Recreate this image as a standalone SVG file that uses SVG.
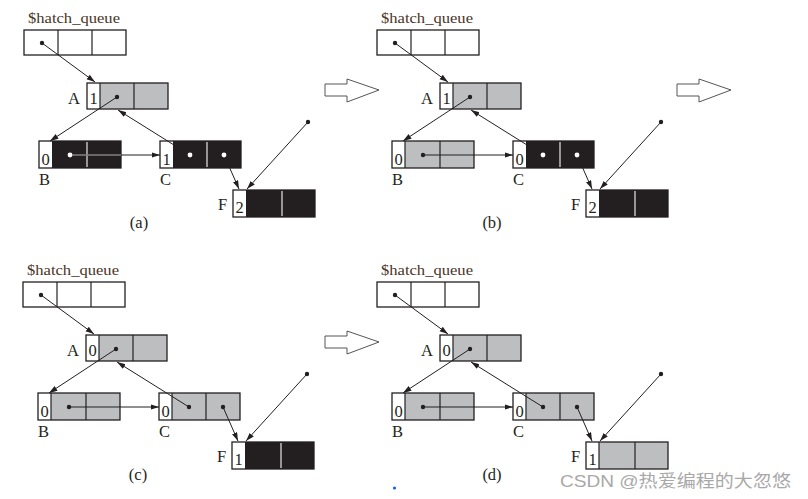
<svg xmlns="http://www.w3.org/2000/svg" width="808" height="499" viewBox="0 0 808 499">
<style>
.bd{fill:none;stroke:#231f20;stroke-width:1.3}
.w{fill:#fff}
.g{fill:#bcbec0}
.k{fill:#231f20}
.dv{stroke:#231f20;stroke-width:1.2}
.wdv{stroke:#e6e6e6;stroke-width:1.2}
.t{font-family:"Liberation Serif","Times New Roman",serif;font-size:16.5px;fill:#231f20}
.tq{font-family:"Liberation Serif","Times New Roman",serif;font-size:15.5px;fill:#4a3526}
.c{stroke:#231f20;stroke-width:1;fill:none}
.cl{stroke:#b0b0b0;stroke-width:1;fill:none}
.dot{fill:#231f20}
.wdot{fill:#fff}
.ba{fill:#fff;stroke:#555;stroke-width:1}
</style>
<defs>
<marker id="ah" markerUnits="userSpaceOnUse" markerWidth="9" markerHeight="6" refX="8.5" refY="2.75" orient="auto"><path d="M0,0 L8.5,2.75 L0,5.5 Z" fill="#231f20"/></marker>
</defs>
<rect width="808" height="499" fill="#fff"/>

<!-- Panel (a) -->
<g id="panel-a">
  <g id="a-queue">
    <text class="tq" x="28" y="23" textLength="92" lengthAdjust="spacingAndGlyphs">$hatch_queue</text>
    <rect class="w" x="24" y="30" width="102" height="25"/>
    <line class="dv" x1="58" y1="30" x2="58" y2="55"/><line class="dv" x1="92" y1="30" x2="92" y2="55"/>
    <rect class="bd" x="24" y="30" width="102" height="25"/>
  </g>
  <g id="a-A">
    <text class="t" x="68" y="104" textLength="12" lengthAdjust="spacingAndGlyphs">A</text>
    <rect class="w" x="87" y="83" width="13" height="26"/><rect class="g" x="100" y="83" width="68" height="26"/>
    <line class="dv" x1="100" y1="83" x2="100" y2="109"/><line class="dv" x1="134" y1="83" x2="134" y2="109"/>
    <rect class="bd" x="87" y="83" width="81" height="26"/>
    <text class="t" x="93.5" y="104" text-anchor="middle">1</text>
  </g>
  <g id="a-B">
    <rect class="w" x="39" y="141" width="13" height="27"/><rect class="k" x="52" y="141" width="69" height="27"/>
    <line class="wdv" x1="87" y1="142" x2="87" y2="167"/>
    <rect class="bd" x="39" y="141" width="82" height="27"/>
    <text class="t" x="45.5" y="165" text-anchor="middle">0</text>
    <text class="t" x="39" y="185">B</text>
  </g>
  <g id="a-C">
    <rect class="w" x="160" y="141" width="13" height="27"/><rect class="k" x="173" y="141" width="68" height="27"/>
    <line class="wdv" x1="207" y1="142" x2="207" y2="167"/>
    <rect class="bd" x="160" y="141" width="81" height="27"/>
    <text class="t" x="166.5" y="165" text-anchor="middle">1</text>
    <text class="t" x="160" y="185">C</text>
  </g>
  <g id="a-F">
    <text class="t" x="218" y="210">F</text>
    <rect class="w" x="233" y="190" width="13" height="27"/><rect class="k" x="246" y="190" width="69" height="27"/>
    <line class="wdv" x1="282" y1="191" x2="282" y2="216"/>
    <rect class="bd" x="233" y="190" width="82" height="27"/>
    <text class="t" x="239.5" y="213" text-anchor="middle">2</text>
  </g>
  <g id="a-connectors">
    <line class="c" x1="42" y1="43" x2="95" y2="82" marker-end="url(#ah)"/>
    <line class="c" x1="117" y1="97" x2="50" y2="141" marker-end="url(#ah)"/>
    <line class="c" x1="70" y1="155" x2="160" y2="155" marker-end="url(#ah)"/>
    <line class="cl" x1="70" y1="155" x2="121" y2="155"/>
    <line class="c" x1="190" y1="155" x2="118" y2="110" marker-end="url(#ah)"/>
    <line class="c" x1="224" y1="155" x2="239" y2="189" marker-end="url(#ah)"/>
    <line class="c" x1="308" y1="122" x2="247" y2="189" marker-end="url(#ah)"/>
    <circle class="dot" cx="42" cy="43" r="2.2"/><circle class="dot" cx="117" cy="97" r="2.2"/>
    <circle class="wdot" cx="70" cy="155" r="2.4"/><circle class="wdot" cx="190" cy="155" r="2.4"/><circle class="wdot" cx="224" cy="155" r="2.4"/>
    <circle class="dot" cx="308" cy="122" r="2.2"/>
  </g>
  <text class="t" x="139" y="228" text-anchor="middle">(a)</text>
</g>

<!-- Panel (b) -->
<g id="panel-b" transform="translate(353,0)">
  <g id="b-queue">
    <text class="tq" x="28" y="23" textLength="92" lengthAdjust="spacingAndGlyphs">$hatch_queue</text>
    <rect class="w" x="24" y="30" width="102" height="25"/>
    <line class="dv" x1="58" y1="30" x2="58" y2="55"/><line class="dv" x1="92" y1="30" x2="92" y2="55"/>
    <rect class="bd" x="24" y="30" width="102" height="25"/>
  </g>
  <g id="b-A">
    <text class="t" x="68" y="104" textLength="12" lengthAdjust="spacingAndGlyphs">A</text>
    <rect class="w" x="87" y="83" width="13" height="26"/><rect class="g" x="100" y="83" width="68" height="26"/>
    <line class="dv" x1="100" y1="83" x2="100" y2="109"/><line class="dv" x1="134" y1="83" x2="134" y2="109"/>
    <rect class="bd" x="87" y="83" width="81" height="26"/>
    <text class="t" x="93.5" y="104" text-anchor="middle">1</text>
  </g>
  <g id="b-B">
    <rect class="w" x="39" y="141" width="13" height="27"/><rect class="g" x="52" y="141" width="69" height="27"/>
    <line class="dv" x1="52" y1="141" x2="52" y2="168"/><line class="dv" x1="87" y1="141" x2="87" y2="168"/>
    <rect class="bd" x="39" y="141" width="82" height="27"/>
    <text class="t" x="45.5" y="165" text-anchor="middle">0</text>
    <text class="t" x="39" y="185">B</text>
  </g>
  <g id="b-C">
    <rect class="w" x="160" y="141" width="13" height="27"/><rect class="k" x="173" y="141" width="68" height="27"/>
    <line class="wdv" x1="207" y1="142" x2="207" y2="167"/>
    <rect class="bd" x="160" y="141" width="81" height="27"/>
    <text class="t" x="166.5" y="165" text-anchor="middle">0</text>
    <text class="t" x="160" y="185">C</text>
  </g>
  <g id="b-F">
    <text class="t" x="218" y="210">F</text>
    <rect class="w" x="233" y="190" width="13" height="27"/><rect class="k" x="246" y="190" width="69" height="27"/>
    <line class="wdv" x1="282" y1="191" x2="282" y2="216"/>
    <rect class="bd" x="233" y="190" width="82" height="27"/>
    <text class="t" x="239.5" y="213" text-anchor="middle">2</text>
  </g>
  <g id="b-connectors">
    <line class="c" x1="42" y1="43" x2="95" y2="82" marker-end="url(#ah)"/>
    <line class="c" x1="117" y1="97" x2="50" y2="141" marker-end="url(#ah)"/>
    <line class="c" x1="70" y1="155" x2="160" y2="155" marker-end="url(#ah)"/>
    <line class="c" x1="190" y1="155" x2="118" y2="110" marker-end="url(#ah)"/>
    <line class="c" x1="224" y1="155" x2="239" y2="189" marker-end="url(#ah)"/>
    <line class="c" x1="308" y1="122" x2="247" y2="189" marker-end="url(#ah)"/>
    <circle class="dot" cx="42" cy="43" r="2.2"/><circle class="dot" cx="117" cy="97" r="2.2"/>
    <circle class="dot" cx="70" cy="155" r="2.2"/><circle class="wdot" cx="190" cy="155" r="2.4"/><circle class="wdot" cx="224" cy="155" r="2.4"/>
    <circle class="dot" cx="308" cy="122" r="2.2"/>
  </g>
  <text class="t" x="139" y="228" text-anchor="middle">(b)</text>
</g>

<!-- Panel (c) -->
<g id="panel-c" transform="translate(-1,252)">
  <g id="c-queue">
    <text class="tq" x="28" y="23" textLength="92" lengthAdjust="spacingAndGlyphs">$hatch_queue</text>
    <rect class="w" x="24" y="30" width="102" height="25"/>
    <line class="dv" x1="58" y1="30" x2="58" y2="55"/><line class="dv" x1="92" y1="30" x2="92" y2="55"/>
    <rect class="bd" x="24" y="30" width="102" height="25"/>
  </g>
  <g id="c-A">
    <text class="t" x="68" y="104" textLength="12" lengthAdjust="spacingAndGlyphs">A</text>
    <rect class="w" x="87" y="83" width="13" height="26"/><rect class="g" x="100" y="83" width="68" height="26"/>
    <line class="dv" x1="100" y1="83" x2="100" y2="109"/><line class="dv" x1="134" y1="83" x2="134" y2="109"/>
    <rect class="bd" x="87" y="83" width="81" height="26"/>
    <text class="t" x="93.5" y="104" text-anchor="middle">0</text>
  </g>
  <g id="c-B">
    <rect class="w" x="39" y="141" width="13" height="27"/><rect class="g" x="52" y="141" width="69" height="27"/>
    <line class="dv" x1="52" y1="141" x2="52" y2="168"/><line class="dv" x1="87" y1="141" x2="87" y2="168"/>
    <rect class="bd" x="39" y="141" width="82" height="27"/>
    <text class="t" x="45.5" y="165" text-anchor="middle">0</text>
    <text class="t" x="39" y="185">B</text>
  </g>
  <g id="c-C">
    <rect class="w" x="160" y="141" width="13" height="27"/><rect class="g" x="173" y="141" width="68" height="27"/>
    <line class="dv" x1="173" y1="141" x2="173" y2="168"/><line class="dv" x1="207" y1="141" x2="207" y2="168"/>
    <rect class="bd" x="160" y="141" width="81" height="27"/>
    <text class="t" x="166.5" y="165" text-anchor="middle">0</text>
    <text class="t" x="160" y="185">C</text>
  </g>
  <g id="c-F">
    <text class="t" x="218" y="210">F</text>
    <rect class="w" x="233" y="190" width="13" height="27"/><rect class="k" x="246" y="190" width="69" height="27"/>
    <line class="wdv" x1="282" y1="191" x2="282" y2="216"/>
    <rect class="bd" x="233" y="190" width="82" height="27"/>
    <text class="t" x="239.5" y="213" text-anchor="middle">1</text>
  </g>
  <g id="c-connectors">
    <line class="c" x1="42" y1="43" x2="95" y2="82" marker-end="url(#ah)"/>
    <line class="c" x1="117" y1="97" x2="50" y2="141" marker-end="url(#ah)"/>
    <line class="c" x1="70" y1="155" x2="160" y2="155" marker-end="url(#ah)"/>
    <line class="c" x1="190" y1="155" x2="118" y2="110" marker-end="url(#ah)"/>
    <line class="c" x1="224" y1="155" x2="239" y2="189" marker-end="url(#ah)"/>
    <line class="c" x1="308" y1="122" x2="247" y2="189" marker-end="url(#ah)"/>
    <circle class="dot" cx="42" cy="43" r="2.2"/><circle class="dot" cx="117" cy="97" r="2.2"/>
    <circle class="dot" cx="70" cy="155" r="2.2"/><circle class="dot" cx="190" cy="155" r="2.2"/><circle class="dot" cx="224" cy="155" r="2.2"/>
    <circle class="dot" cx="308" cy="122" r="2.2"/>
  </g>
  <text class="t" x="139" y="228" text-anchor="middle">(c)</text>
</g>

<!-- Panel (d) -->
<g id="panel-d" transform="translate(353,252)">
  <g id="d-queue">
    <text class="tq" x="28" y="23" textLength="92" lengthAdjust="spacingAndGlyphs">$hatch_queue</text>
    <rect class="w" x="24" y="30" width="102" height="25"/>
    <line class="dv" x1="58" y1="30" x2="58" y2="55"/><line class="dv" x1="92" y1="30" x2="92" y2="55"/>
    <rect class="bd" x="24" y="30" width="102" height="25"/>
  </g>
  <g id="d-A">
    <text class="t" x="68" y="104" textLength="12" lengthAdjust="spacingAndGlyphs">A</text>
    <rect class="w" x="87" y="83" width="13" height="26"/><rect class="g" x="100" y="83" width="68" height="26"/>
    <line class="dv" x1="100" y1="83" x2="100" y2="109"/><line class="dv" x1="134" y1="83" x2="134" y2="109"/>
    <rect class="bd" x="87" y="83" width="81" height="26"/>
    <text class="t" x="93.5" y="104" text-anchor="middle">0</text>
  </g>
  <g id="d-B">
    <rect class="w" x="39" y="141" width="13" height="27"/><rect class="g" x="52" y="141" width="69" height="27"/>
    <line class="dv" x1="52" y1="141" x2="52" y2="168"/><line class="dv" x1="87" y1="141" x2="87" y2="168"/>
    <rect class="bd" x="39" y="141" width="82" height="27"/>
    <text class="t" x="45.5" y="165" text-anchor="middle">0</text>
    <text class="t" x="39" y="185">B</text>
  </g>
  <g id="d-C">
    <rect class="w" x="160" y="141" width="13" height="27"/><rect class="g" x="173" y="141" width="68" height="27"/>
    <line class="dv" x1="173" y1="141" x2="173" y2="168"/><line class="dv" x1="207" y1="141" x2="207" y2="168"/>
    <rect class="bd" x="160" y="141" width="81" height="27"/>
    <text class="t" x="166.5" y="165" text-anchor="middle">0</text>
    <text class="t" x="160" y="185">C</text>
  </g>
  <g id="d-F">
    <text class="t" x="218" y="210">F</text>
    <rect class="w" x="233" y="190" width="13" height="27"/><rect class="g" x="246" y="190" width="69" height="27"/>
    <line class="dv" x1="246" y1="190" x2="246" y2="217"/><line class="dv" x1="282" y1="190" x2="282" y2="217"/>
    <rect class="bd" x="233" y="190" width="82" height="27"/>
    <text class="t" x="239.5" y="213" text-anchor="middle">1</text>
  </g>
  <g id="d-connectors">
    <line class="c" x1="42" y1="43" x2="95" y2="82" marker-end="url(#ah)"/>
    <line class="c" x1="117" y1="97" x2="50" y2="141" marker-end="url(#ah)"/>
    <line class="c" x1="70" y1="155" x2="160" y2="155" marker-end="url(#ah)"/>
    <line class="c" x1="190" y1="155" x2="118" y2="110" marker-end="url(#ah)"/>
    <line class="c" x1="224" y1="155" x2="239" y2="189" marker-end="url(#ah)"/>
    <line class="c" x1="308" y1="122" x2="247" y2="189" marker-end="url(#ah)"/>
    <circle class="dot" cx="42" cy="43" r="2.2"/><circle class="dot" cx="117" cy="97" r="2.2"/>
    <circle class="dot" cx="70" cy="155" r="2.2"/><circle class="dot" cx="190" cy="155" r="2.2"/><circle class="dot" cx="224" cy="155" r="2.2"/>
    <circle class="dot" cx="308" cy="122" r="2.2"/>
  </g>
  <text class="t" x="139" y="228" text-anchor="middle">(d)</text>
</g>

<!-- Step arrows -->
<g id="step-arrows">
  <path id="step1" class="ba" d="M325,84 H347 V79 L379,90 L347,102 V96 H325 Z"/>
  <path id="step2" class="ba" d="M677,84 H699 V79 L731,90 L699,102 V96 H677 Z"/>
  <path id="step3" class="ba" d="M325,336 H347 V331 L379,342 L347,354 V348 H325 Z"/>
</g>

<circle cx="394.5" cy="488" r="1.6" fill="#1a5cff"/>
<text x="560" y="487" font-family="'Liberation Sans','Noto Sans CJK SC',sans-serif" font-size="17" fill="#a8a8a8" textLength="231" lengthAdjust="spacingAndGlyphs">CSDN @热爱编程的大忽悠</text>
</svg>
